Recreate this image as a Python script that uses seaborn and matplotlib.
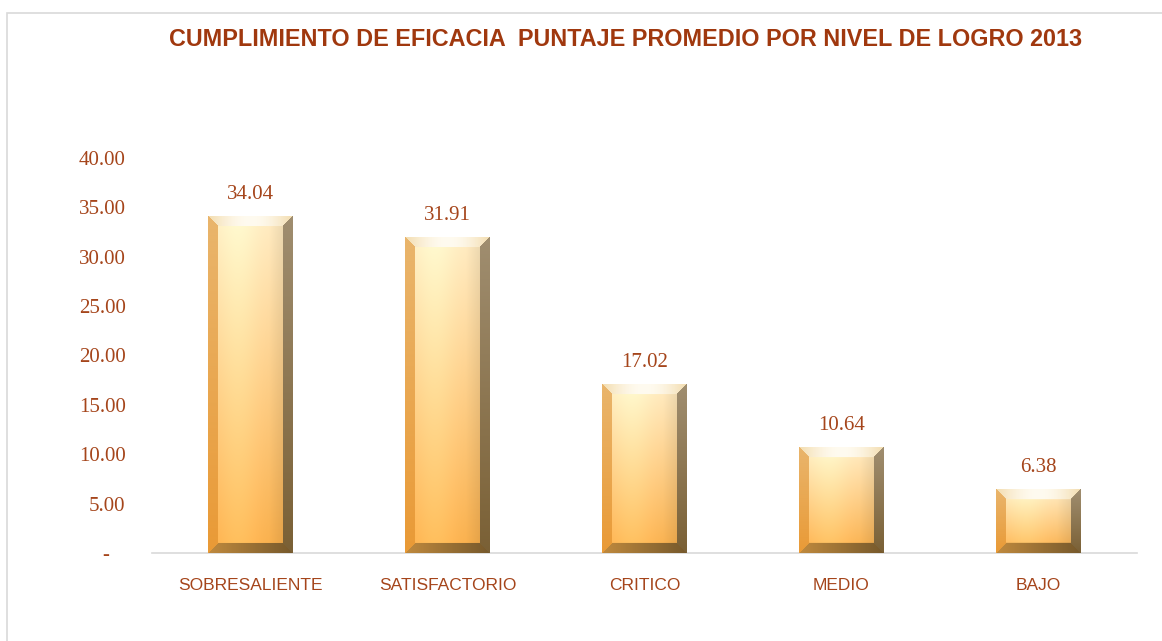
import numpy as np
import pandas as pd
import seaborn as sns
import matplotlib.pyplot as plt
from matplotlib.patches import Rectangle
from matplotlib.ticker import FuncFormatter

categorias = ["SOBRESALIENTE", "SATISFACTORIO", "CRITICO", "MEDIO", "BAJO"]
puntajes = [34.04, 31.91, 17.02, 10.64, 6.38]
titulo = "CUMPLIMIENTO DE EFICACIA  PUNTAJE PROMEDIO POR NIVEL DE LOGRO 2013"

TXT = "#A5451B"
df = pd.DataFrame({"nivel": categorias, "puntaje": puntajes})

sns.set_style("white")
fig = plt.figure(figsize=(11.62, 6.41), dpi=100)
ax = fig.add_axes([152 / 1162, 1 - 553 / 641, 985 / 1162, 395 / 641])

sns.barplot(data=df, x="nivel", y="puntaje", width=0.43, color="#F9C470",
            saturation=1, ax=ax, zorder=2)
ax.set_xlim(-0.5, 4.5)
ax.set_ylim(0, 40)
ax.set_autoscale_on(False)


def hexrgb(h):
    h = h.lstrip("#")
    return np.array([int(h[i:i + 2], 16) / 255 for i in (0, 2, 4)])


def bevel_image(w, h, b=10):
    # face: vertical gradient cream -> orange, lighter left-centre, darker right
    yy = np.linspace(0, 1, h)[:, None, None]
    xx = np.linspace(0, 1, w)[None, :, None]
    top_c, bot_c = hexrgb("#FFEBC2"), hexrgb("#F8AE4A")
    img = top_c * (1 - yy) + bot_c * yy
    img = img * np.ones((h, w, 1))
    img = img + 0.06 * np.exp(-((xx - 0.35) / 0.25) ** 2)
    img = img * (1 - 0.12 * np.clip((xx - 0.72) / 0.28, 0, 1))
    j = np.arange(w)[None, :] * np.ones((h, 1))
    i = np.arange(h)[:, None] * np.ones((1, w))
    d = np.stack([j, w - 1 - j, i, h - 1 - i])
    which = d.argmin(axis=0)
    edge = d.min(axis=0) < b
    t = i[..., None] / max(h - 1, 1)
    s = j[..., None] / max(w - 1, 1)
    left = hexrgb("#E9B56C") * (1 - t) + hexrgb("#E99A36") * t
    right = hexrgb("#A08E70") * (1 - t) + hexrgb("#7A6035") * t
    topc = hexrgb("#F3DDB0") * (1 - np.sin(np.pi * s)) + hexrgb("#FFFBF0") * np.sin(np.pi * s)
    botc = hexrgb("#C08A3E") * (1 - s) + hexrgb("#76592C") * s
    for k, col in enumerate([left, right, topc, botc]):
        col = col * np.ones_like(img)
        m = edge & (which == k)
        img[m] = col[m]
    return np.clip(img, 0, 1)


fig.canvas.draw()
for p in list(ax.patches):
    x0, y0 = p.get_x(), p.get_y()
    x1, y1 = x0 + p.get_width(), y0 + p.get_height()
    (px0, py0), (px1, py1) = ax.transData.transform([(x0, y0), (x1, y1)])
    w, h = int(round(px1 - px0)), int(round(py1 - py0))
    ax.imshow(bevel_image(w, h), extent=[x0, x1, y0, y1], aspect="auto",
              zorder=3, interpolation="bilinear")
    ax.text(x0 + p.get_width() / 2, y1 + 1.3, f"{p.get_height():.2f}", ha="center",
            va="bottom", color=TXT, fontsize=15, family="Liberation Serif")

ax.set_yticks(np.arange(0, 41, 5))
ax.yaxis.set_major_formatter(FuncFormatter(lambda v, _: "-   " if v == 0 else f"{v:.2f}"))
ax.tick_params(axis="y", length=0, pad=19, labelcolor=TXT, labelsize=15)
ax.tick_params(axis="x", length=0, pad=18, labelcolor=TXT, labelsize=12.5)
for lab in ax.get_yticklabels():
    lab.set_family("Liberation Serif")
for lab in ax.get_xticklabels():
    lab.set_family("Liberation Sans")
ax.set_xlabel("")
ax.set_ylabel("")
for s in ["left", "right", "top"]:
    ax.spines[s].set_visible(False)
ax.spines["bottom"].set_color("#D9D9D9")
ax.spines["bottom"].set_linewidth(1.2)
ax.patch.set_alpha(0)

fig.text(626 / 1162, 1 - 40 / 641, titulo, ha="center", va="center",
         color="#A0380E", fontsize=16.8, fontweight="bold", family="Liberation Sans")

fig.patches.append(Rectangle((7 / 1162, -0.1), 1.2, 1.1 - 13 / 641,
                             transform=fig.transFigure, fill=False,
                             edgecolor="#D9D9D9", linewidth=1.2))

fig.savefig("out.png", dpi=100)
